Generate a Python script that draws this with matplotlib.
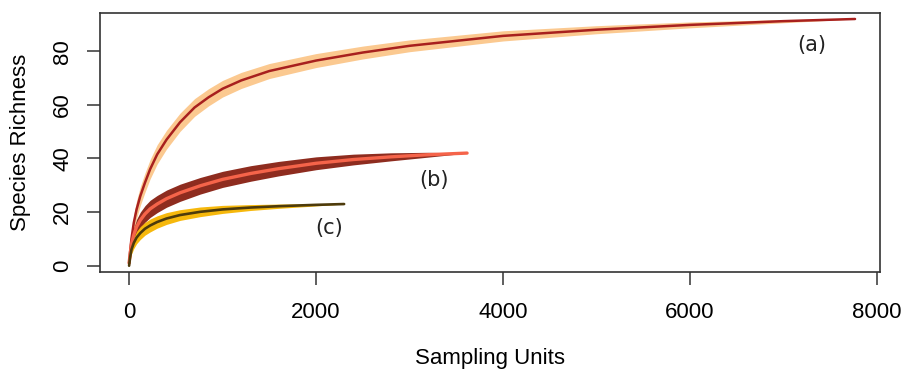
import matplotlib
matplotlib.use("Agg")
import matplotlib.pyplot as plt
import numpy as np

# Curve (a)
xa = [0, 10, 25, 50, 80, 120, 170, 225, 300, 400, 545, 700, 850, 1000, 1200, 1500, 2000,
      2500, 3000, 4000, 5000, 6000, 7000, 7765]
ya = [1, 5, 10, 16, 21, 26, 31, 36, 41.5, 47, 53.5, 59, 62.8, 66.0, 69.1, 72.6, 76.5,
      79.5, 82, 85.7, 88, 89.8, 91.2, 92]
wa = [0.3, 1.5, 2.4, 3.0, 3.3, 3.5, 3.6, 3.6, 3.6, 3.5, 3.4, 3.3, 3.2, 3.1, 3.0, 2.8, 2.6,
      2.4, 2.2, 1.9, 1.5, 1.1, 0.6, 0.0]

# Curve (b)
xb = [0, 10, 25, 50, 80, 120, 170, 225, 300, 400, 545, 760, 1000, 1300, 1600, 2000,
      2400, 2800, 3200, 3615]
yb = [1, 4, 8, 11.5, 14.5, 17, 19.3, 21.2, 23, 25, 27.2, 29.8, 32.2, 34.4, 36.2, 38.2,
      39.6, 40.6, 41.4, 42]
wb = [0.3, 1.2, 2.0, 2.5, 2.8, 3.0, 3.1, 3.2, 3.2, 3.2, 3.2, 3.1, 3.0, 2.9, 2.7, 2.4,
      2.0, 1.5, 0.9, 0.0]

# Curve (c)
xc = [0, 10, 25, 50, 80, 120, 170, 225, 300, 400, 545, 760, 1000, 1300, 1600, 2000, 2300]
yc = [0, 3, 6, 8.5, 10.5, 12.2, 13.8, 15, 16.3, 17.6, 18.9, 20.1, 21, 21.7, 22.2, 22.7, 23]
wc = [0.2, 1.1, 1.7, 2.1, 2.3, 2.4, 2.4, 2.4, 2.3, 2.2, 2.0, 1.8, 1.5, 1.1, 0.8, 0.4, 0.0]

labels = ["(a)", "(b)", "(c)"]
label_pos = [(7305, 82.3), (3262, 32), (2139, 14)]

xticks = [0, 2000, 4000, 6000, 8000]
yticks = [0, 20, 40, 60, 80]

fig = plt.figure(figsize=(9.02, 3.74), dpi=100)
ax = fig.add_axes([0.111, 0.273, 0.8646, 0.692])

series = [
    (xa, ya, wa, "#fbc990", "#a8201e", 1.8),
    (xb, yb, wb, "#8e2c1f", "#f5644a", 2.4),
    (xc, yc, wc, "#f6b80c", "#4d3b0c", 1.9),
]
for x, y, w, band, line, lw in series:
    x = np.array(x); y = np.array(y); w = np.array(w)
    ax.fill_between(x, y - w, y + w, color=band, lw=0, zorder=2)
    ax.plot(x, y, color=line, lw=lw, zorder=3, solid_capstyle="round",
            solid_joinstyle="round")

for t, (px, py) in zip(labels, label_pos):
    ax.text(px, py, t, fontsize=15, family="DejaVu Sans", ha="center", va="center",
            color="#222222")

ax.set_xlim(-310, 8032)
ax.set_ylim(-2.3, 94.2)
ax.set_xticks(xticks)
ax.set_yticks(yticks)
ax.set_xticklabels([str(v) for v in xticks], family="Liberation Sans", fontsize=16)
ax.set_yticklabels([str(v) for v in yticks], family="Liberation Sans", fontsize=16,
                   rotation=90, va="center")
ax.tick_params(direction="out", length=9.5, width=1.1, color="#333333", pad=12)
ax.tick_params(axis="y", pad=10)
for s in ax.spines.values():
    s.set_color("#333333")
    s.set_linewidth(1.2)

ax.set_xlabel("Sampling Units", family="Liberation Sans", fontsize=16, labelpad=18)
ax.set_ylabel("Species Richness", family="Liberation Sans", fontsize=16, labelpad=15)

fig.savefig("out.png", dpi=100)
